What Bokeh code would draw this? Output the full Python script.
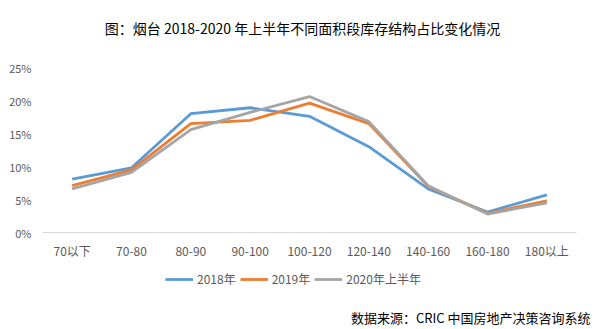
from bokeh.plotting import figure
from bokeh.models import (FactorRange, Range1d, CustomJSTickFormatter, Legend, LegendItem,
                          Label, FixedTicker)
from bokeh.layouts import column
from bokeh.embed import file_html
from bokeh.resources import INLINE

categories = ["70以下", "70-80", "80-90", "90-100", "100-120", "120-140", "140-160", "160-180", "180以上"]
s2018 = [8.1, 9.8, 18.0, 18.9, 17.6, 13.0, 6.6, 3.1, 5.7]
s2019 = [7.1, 9.5, 16.5, 17.0, 19.6, 16.5, 7.0, 2.9, 4.8]
s2020 = [6.6, 9.1, 15.6, 18.2, 20.6, 16.8, 7.1, 2.8, 4.5]
series_names = ["2018年", "2019年", "2020年上半年"]
y_ticks = [0, 5, 10, 15, 20, 25]
title_text = "图：烟台 2018-2020 年上半年不同面积段库存结构占比变化情况"
source_text = "数据来源：CRIC 中国房地产决策咨询系统"

FONT = "Noto Sans CJK SC"
colors = ["#5B9BD5", "#ED7D31", "#A5A5A5"]
LW = 2.8


def bare(h, x_range, y_range):
    f = figure(width=596, height=h, x_range=x_range, y_range=y_range,
               output_backend="svg", toolbar_location=None,
               x_axis_location=None, y_axis_location=None,
               min_border_left=0, min_border_right=0, min_border_top=0, min_border_bottom=0)
    f.outline_line_color = None
    f.xgrid.visible = False
    f.ygrid.visible = False
    return f


# --- title strip (frame aligned to main chart: x 42..576) ---
top = bare(48, Range1d(0, 1), Range1d(0, 1))
top.add_layout(Label(x=260, y=21, x_units="screen", y_units="screen", text=title_text,
                     text_font=FONT, text_font_size="14px", text_color="#000000",
                     text_align="center", text_baseline="middle"))

# --- main chart ---
p = figure(width=596, height=217, x_range=FactorRange(*categories, range_padding=0),
           y_range=Range1d(0, 25), output_backend="svg", toolbar_location=None,
           min_border_left=42, min_border_right=20, min_border_top=19, min_border_bottom=33)
p.outline_line_color = None
p.xgrid.grid_line_color = None
p.ygrid.grid_line_color = None

for vals, c in zip([s2018, s2019, s2020], colors):
    p.line(categories, vals, line_color=c, line_width=LW, line_join="round")

p.yaxis.ticker = FixedTicker(ticks=y_ticks)
p.yaxis.formatter = CustomJSTickFormatter(code="return tick + '%';")
p.yaxis.axis_line_color = None
p.yaxis.major_tick_line_color = None
p.yaxis.minor_tick_line_color = None
p.yaxis.major_label_text_font = FONT
p.yaxis.major_label_text_font_size = "11px"
p.yaxis.major_label_text_color = "#595959"
p.yaxis.major_label_standoff = 5

p.xaxis.axis_line_color = "#D9D9D9"
p.xaxis.axis_line_width = 1
p.xaxis.major_tick_line_color = None
p.xaxis.minor_tick_line_color = None
p.xaxis.major_label_text_font = FONT
p.xaxis.major_label_text_font_size = "12px"
p.xaxis.major_label_text_color = "#595959"
p.xaxis.major_label_standoff = 3

# --- legend strip: series drawn out of view, they only supply the legend glyphs ---
leg = bare(40, FactorRange(*categories, range_padding=0), Range1d(100, 101))
leg_r = []
for vals, c in zip([s2018, s2019, s2020], colors):
    leg_r.append(leg.line(categories, vals, line_color=c, line_width=LW))

legend = Legend(items=[LegendItem(label=n, renderers=[r]) for n, r in zip(series_names, leg_r)],
                orientation="horizontal", location=(123, 18), padding=0, margin=0,
                glyph_width=28, glyph_height=16, label_height=16, label_standoff=4, spacing=4,
                label_text_font=FONT, label_text_font_size="12px", label_text_color="#595959",
                border_line_color=None, background_fill_alpha=0)
leg.add_layout(legend, "center")

# --- source strip: text as the figure title (drawn in a side panel, not clipped) ---
src = bare(24, Range1d(0, 1), Range1d(0, 1))
src.title.text = source_text
src.title.align = "right"
src.title.offset = -14
src.title.text_font = FONT
src.title.text_font_size = "13px"
src.title.text_font_style = "normal"
src.title.text_color = "#000000"
src.title.standoff = 0

layout = column(top, p, leg, src, spacing=0)
open("out.html", "w").write(file_html(layout, INLINE))
